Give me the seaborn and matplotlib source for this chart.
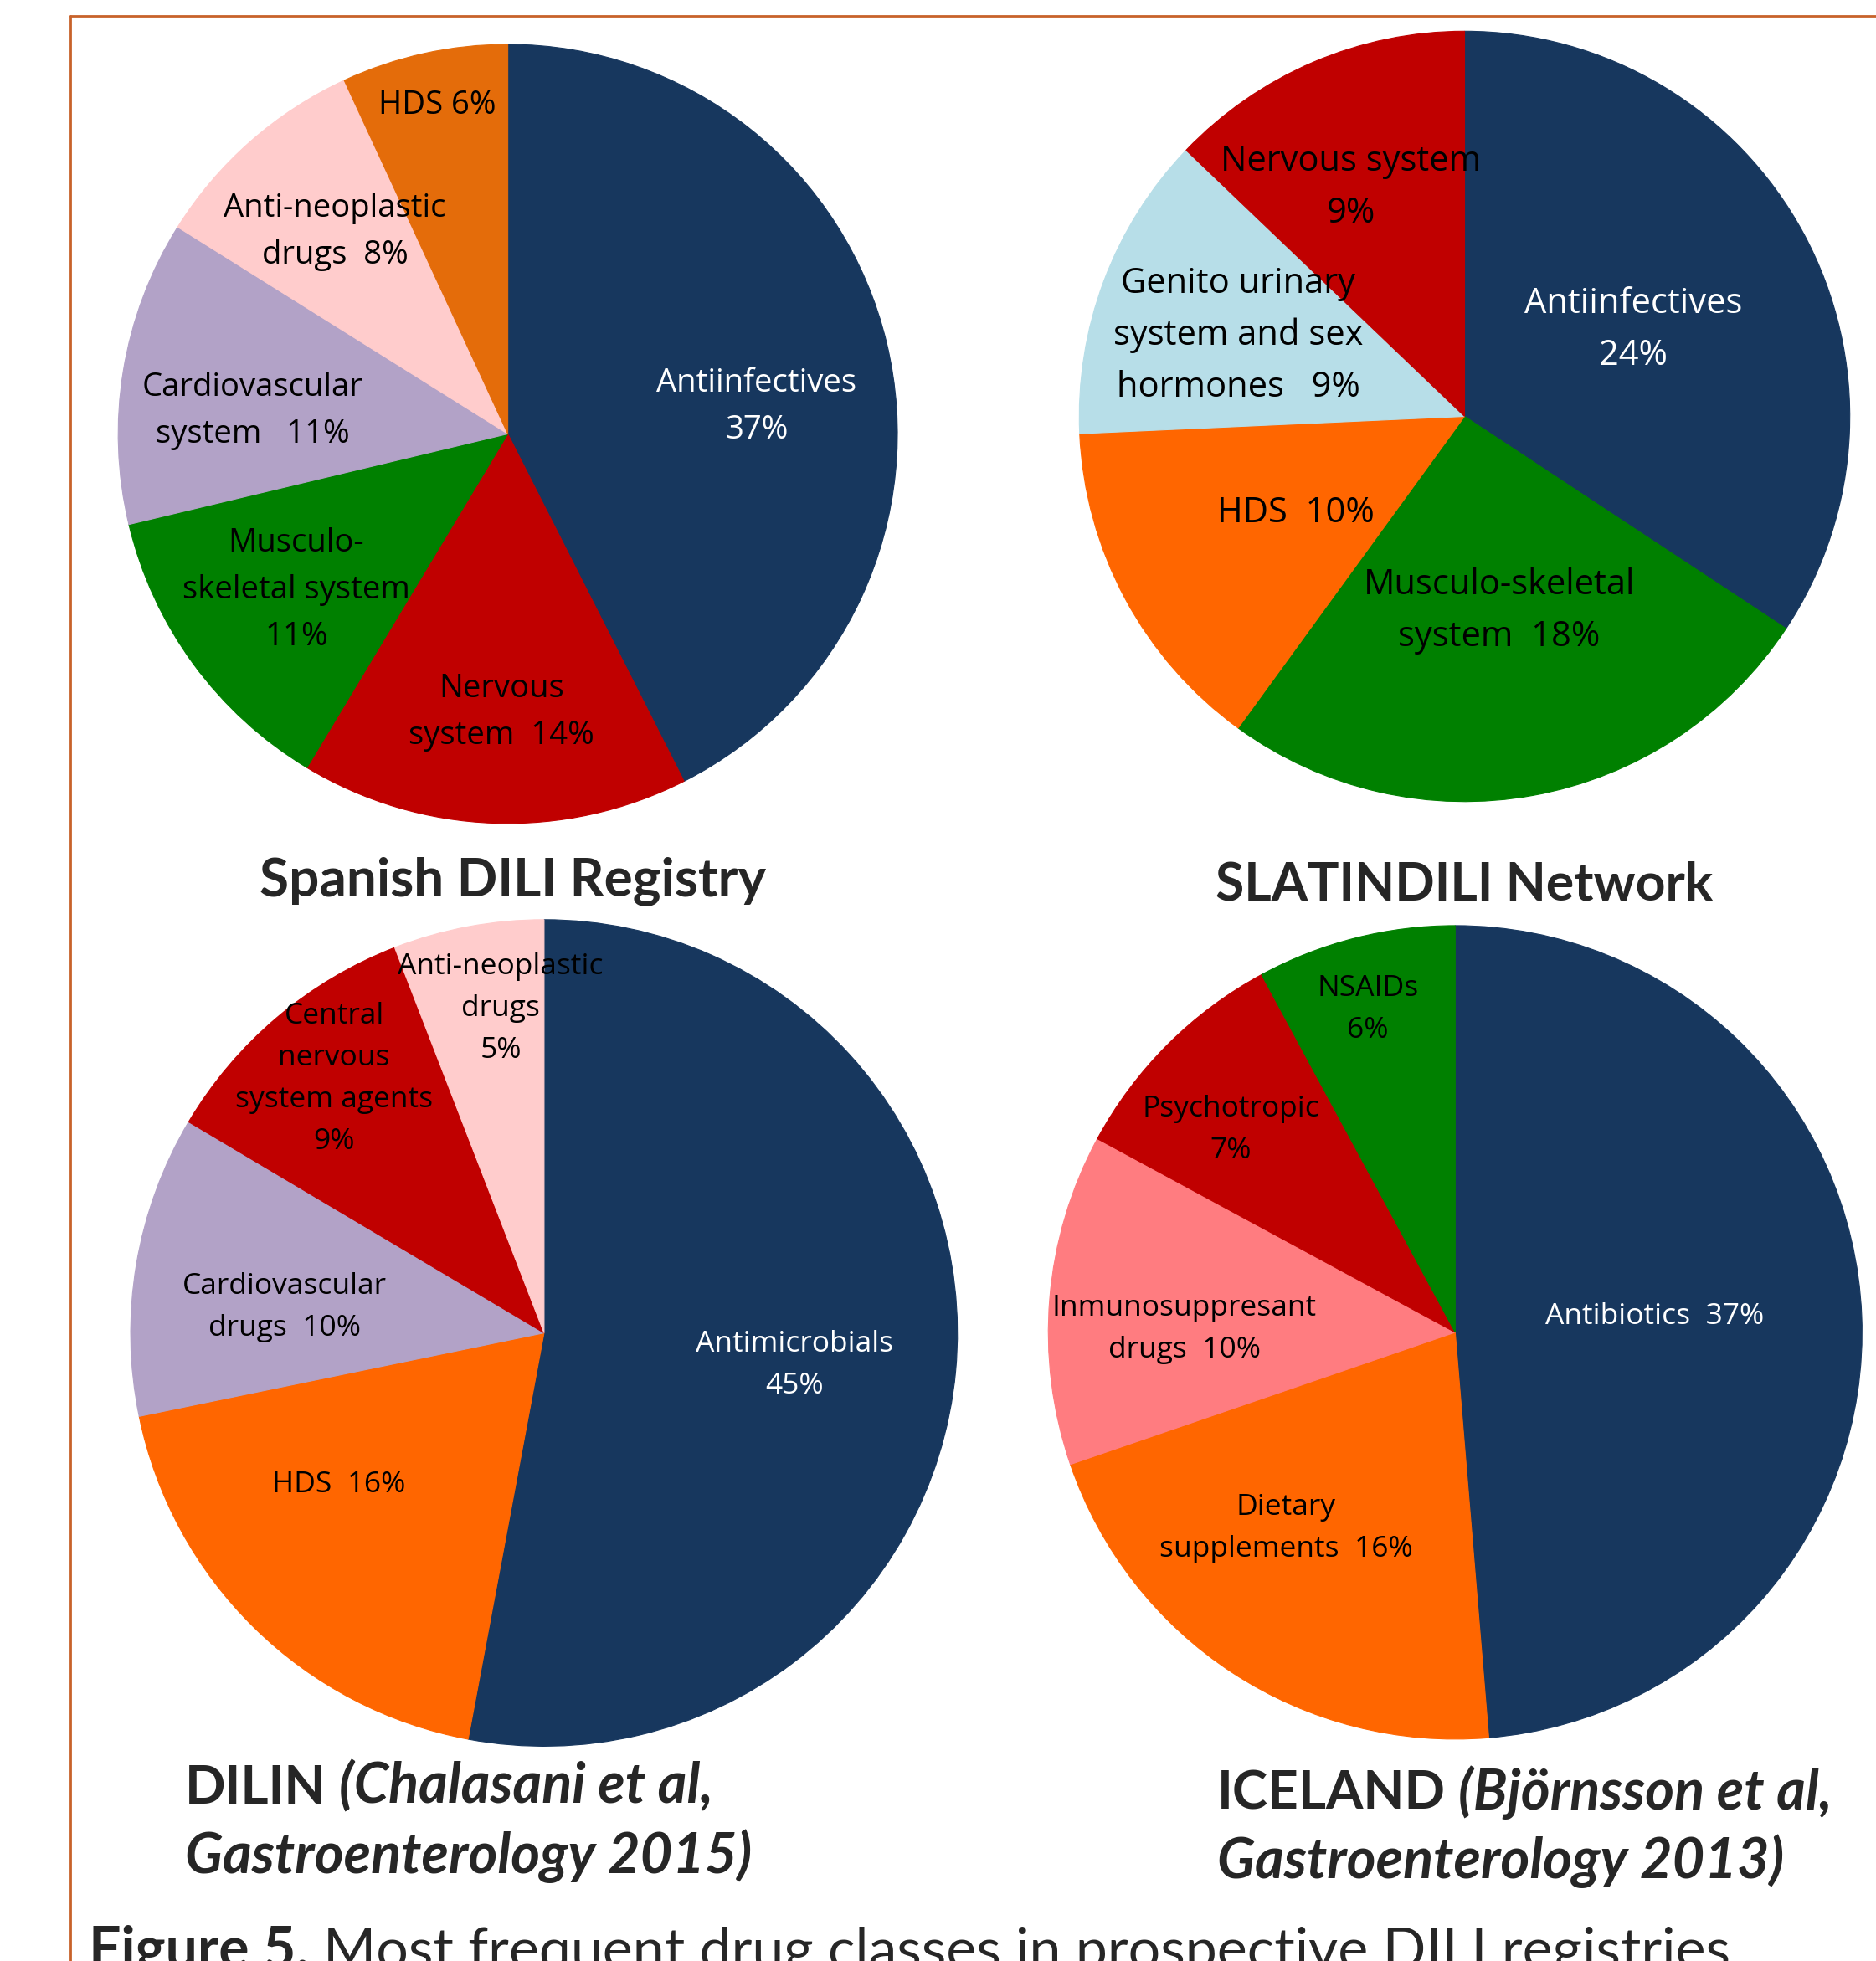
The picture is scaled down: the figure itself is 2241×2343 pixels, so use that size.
import matplotlib
matplotlib.use("Agg")
import matplotlib.pyplot as plt
from matplotlib.lines import Line2D
import seaborn as sns

# ---------------- data ----------------
spanish_classes = ["Antiinfectives", "Nervous system", "Musculo-skeletal system",
                   "Cardiovascular system", "Anti-neoplastic drugs", "HDS"]
spanish_pct = [37, 14, 11, 11, 8, 6]
spanish_labels = ["Antiinfectives\n{}%", "Nervous\nsystem  {}%",
                  "Musculo-\nskeletal system\n{}%", "Cardiovascular\nsystem   {}%",
                  "Anti-neoplastic\ndrugs  {}%", "HDS {}%"]

slatin_classes = ["Antiinfectives", "Musculo-skeletal system", "HDS",
                  "Genito urinary system and sex hormones", "Nervous system"]
slatin_pct = [24, 18, 10, 9, 9]
slatin_labels = ["Antiinfectives\n{}%", "Musculo-skeletal\nsystem  {}%", "HDS  {}%",
                 "Genito urinary\nsystem and sex\nhormones   {}%", "Nervous system\n{}%"]

dilin_classes = ["Antimicrobials", "HDS", "Cardiovascular drugs",
                 "Central nervous system agents", "Anti-neoplastic drugs"]
dilin_pct = [45, 16, 10, 9, 5]
dilin_labels = ["Antimicrobials\n{}%", "HDS  {}%", "Cardiovascular\ndrugs  {}%",
                "Central\nnervous\nsystem agents\n{}%", "Anti-neoplastic\ndrugs\n{}%"]

iceland_classes = ["Antibiotics", "Dietary supplements", "Inmunosuppresant drugs",
                   "Psychotropic", "NSAIDs"]
iceland_pct = [37, 16, 10, 7, 6]
iceland_labels = ["Antibiotics  {}%", "Dietary\nsupplements  {}%",
                  "Inmunosuppresant\ndrugs  {}%", "Psychotropic\n{}%", "NSAIDs\n{}%"]

# ---------------- styles ----------------
NAVY, RED, GREEN = "#17375E", "#C00000", "#008000"
LAVENDER, PINK = "#B2A2C7", "#FFCCCC"
ORANGE, DARK_ORANGE = "#FF6600", "#E46C0A"
LIGHT_BLUE, SALMON = "#B7DEE8", "#FF7C80"

spanish_colors = [NAVY, RED, GREEN, LAVENDER, PINK, DARK_ORANGE]
slatin_colors = [NAVY, GREEN, ORANGE, LIGHT_BLUE, RED]
dilin_colors = [NAVY, ORANGE, LAVENDER, RED, PINK]
iceland_colors = [NAVY, ORANGE, SALMON, RED, GREEN]

W, H = 2241, 2343
sns.set_theme(style="white")
plt.rcParams["font.family"] = ["Open Sans", "DejaVu Sans"]

fig = plt.figure(figsize=(W / 100, H / 100), dpi=100)
fig.patch.set_facecolor("white")


def draw_pie(center, radius, values, colors, templates, label_xy, fontsize):
    cx, cy = center
    ax = fig.add_axes([(cx - radius) / W, 1 - (cy + radius) / H,
                       2 * radius / W, 2 * radius / H])
    wedges, _ = ax.pie(values, colors=colors, startangle=90, counterclock=False,
                       radius=1, wedgeprops=dict(linewidth=0.8))
    for w, c in zip(wedges, colors):
        w.set_edgecolor(c)
    ax.set_xlim(-1, 1)
    ax.set_ylim(-1, 1)
    ax.set_aspect("equal")
    ax.axis("off")
    for tpl, v, c, (lx, ly) in zip(templates, values, colors, label_xy):
        ax.text((lx - cx) / radius, (cy - ly) / radius, tpl.format(v),
                ha="center", va="center", multialignment="center",
                fontsize=fontsize, linespacing=1.62,
                color="white" if c == NAVY else "black")


draw_pie((606.6, 518.4), 465.4, spanish_pct, spanish_colors, spanish_labels,
         [(904, 486), (599, 851), (354, 705), (302, 491), (400, 277), (522, 126)], 27.5)
draw_pie((1749.5, 497.5), 460.2, slatin_pct, slatin_colors, slatin_labels,
         [(1951, 394), (1791, 730), (1548, 613), (1479, 401), (1614, 224)], 30)
draw_pie((649.9, 1592.6), 493.8, dilin_pct, dilin_colors, dilin_labels,
         [(949, 1631), (405, 1774), (340, 1562), (399, 1289), (598, 1205)], 25.5)
draw_pie((1738.3, 1591.9), 486.0, iceland_pct, iceland_colors, iceland_labels,
         [(1977, 1573), (1536, 1826), (1415, 1588), (1470, 1350), (1634, 1206)], 25.5)

# ---------------- titles and caption ----------------
renderer = fig.canvas.get_renderer()
TITLE_FONT = ["Lato", "DejaVu Sans"]


def text_width(s, **kw):
    t = fig.text(0, 0, s, **kw)
    w = t.get_window_extent(renderer).width
    t.remove()
    return w


def rich_line(x, y, parts):
    """Draw consecutive text runs with different styles on one baseline."""
    for i, (s, weight, style, size) in enumerate(parts):
        kw = dict(fontsize=size, fontweight=weight, fontstyle=style, family=TITLE_FONT)
        t = fig.text(x / W, 1 - y / H, s, ha="left", va="baseline", **kw)
        x += t.get_window_extent(renderer).width
        if i < len(parts) - 1:
            x += text_width("x x", **kw) - text_width("xx", **kw)


TITLE_SIZE = 46
ITALIC_SIZE = 48
fig.text(613 / W, 1 - 1070 / H, "Spanish DILI Registry", ha="center", va="baseline",
         fontsize=TITLE_SIZE, fontweight="bold", family=TITLE_FONT)
fig.text(1749 / W, 1 - 1076 / H, "SLATINDILI Network", ha="center", va="baseline",
         fontsize=45, fontweight="bold", family=TITLE_FONT)

rich_line(221, 2155, [("DILIN", "bold", "normal", TITLE_SIZE),
                      ("(Chalasani et al,", "bold", "italic", ITALIC_SIZE)])
rich_line(221, 2238, [("Gastroenterology 2015)", "bold", "italic", ITALIC_SIZE)])
rich_line(1454, 2162, [("ICELAND", "bold", "normal", TITLE_SIZE),
                       ("(Björnsson et al,", "bold", "italic", ITALIC_SIZE)])
rich_line(1454, 2244, [("Gastroenterology 2013)", "bold", "italic", ITALIC_SIZE)])

rich_line(106, 2351, [("Figure 5.", "bold", "normal", 49),
                      ("Most frequent drug classes in prospective DILI registries",
                       "normal", "normal", 49)])

# frame
frame_color = "#C8622A"
fig.add_artist(Line2D([84 / W, 1.0], [1 - 19 / H, 1 - 19 / H], transform=fig.transFigure,
                      color=frame_color, linewidth=2.0))
fig.add_artist(Line2D([84 / W, 84 / W], [1 - 19 / H, 0.0], transform=fig.transFigure,
                      color=frame_color, linewidth=2.0))

fig.savefig("out.png", dpi=100, facecolor="white")
